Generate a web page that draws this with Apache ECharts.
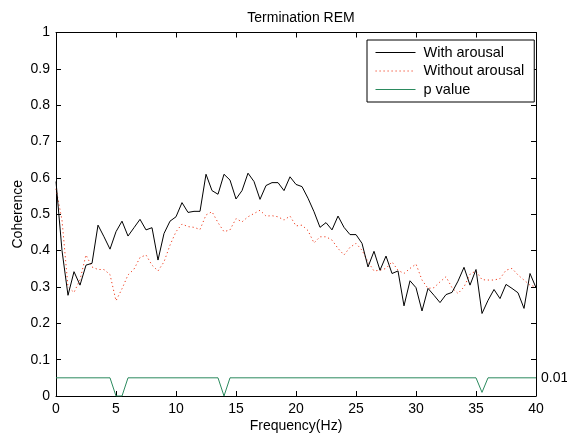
<!DOCTYPE html>
<html>
<head>
<meta charset="utf-8">
<script src="https://cdn.jsdelivr.net/npm/echarts@6/dist/echarts.min.js"></script>
<style>
  html, body { margin: 0; padding: 0; background: #fff; }
  #main { width: 567px; height: 436px; }
</style>
</head>
<body>
<div id="main"></div>
<script>
  // frequency grid (Hz)
  const freq = [
    0, 0.5, 1, 1.5, 2, 2.5, 3, 3.5, 4, 4.5, 5, 5.5, 6, 6.5, 7, 7.5, 8, 8.5, 9, 9.5,
    10, 10.5, 11, 11.5, 12, 12.5, 13, 13.5, 14, 14.5, 15, 15.5, 16, 16.5, 17, 17.5, 18, 18.5, 19, 19.5,
    20, 20.5, 21, 21.5, 22, 22.5, 23, 23.5, 24, 24.5, 25, 25.5, 26, 26.5, 27, 27.5, 28, 28.5, 29, 29.5,
    30, 30.5, 31, 31.5, 32, 32.5, 33, 33.5, 34, 34.5, 35, 35.5, 36, 36.5, 37, 37.5, 38, 38.5, 39, 39.5, 40
  ]
  const withArousal = [
    0.59, 0.40, 0.277, 0.342, 0.305, 0.36, 0.365, 0.47, 0.438, 0.404, 0.452, 0.481, 0.44, 0.463, 0.486, 0.457, 0.463, 0.374, 0.447, 0.481,
    0.493, 0.532, 0.505, 0.508, 0.508, 0.61, 0.565, 0.555, 0.61, 0.594, 0.542, 0.565, 0.613, 0.59, 0.541, 0.579, 0.587, 0.587, 0.565, 0.603,
    0.582, 0.576, 0.544, 0.507, 0.464, 0.477, 0.457, 0.495, 0.464, 0.444, 0.444, 0.42, 0.355, 0.398, 0.346, 0.385, 0.337, 0.344, 0.248, 0.317,
    0.298, 0.234, 0.296, 0.277, 0.257, 0.279, 0.285, 0.316, 0.354, 0.305, 0.348, 0.227, 0.263, 0.293, 0.268, 0.307, 0.296, 0.284, 0.241, 0.337, 0.298
  ]
  const withoutArousal = [
    0.57, 0.484, 0.30, 0.285, 0.32, 0.388, 0.355, 0.348, 0.348, 0.334, 0.262, 0.295, 0.333, 0.349, 0.381, 0.388, 0.36, 0.344, 0.369, 0.415,
    0.452, 0.473, 0.466, 0.464, 0.458, 0.498, 0.507, 0.477, 0.452, 0.457, 0.488, 0.479, 0.493, 0.502, 0.511, 0.495, 0.496, 0.493, 0.484, 0.495,
    0.468, 0.47, 0.455, 0.421, 0.438, 0.438, 0.429, 0.406, 0.388, 0.409, 0.42, 0.401, 0.369, 0.344, 0.346, 0.351, 0.369, 0.346, 0.337, 0.351,
    0.363, 0.319, 0.296, 0.298, 0.314, 0.328, 0.298, 0.282, 0.3, 0.335, 0.344, 0.32, 0.319, 0.319, 0.323, 0.346, 0.351, 0.333, 0.319, 0.305, 0.3
  ]
  // p value curve, drawn on the coherence scale (0.05 line = p 0.01)
  const pValue = [
    0.05, 0.05, 0.05, 0.05, 0.05, 0.05, 0.05, 0.05, 0.05, 0.05, 0, 0, 0.05, 0.05, 0.05, 0.05, 0.05, 0.05, 0.05, 0.05,
    0.05, 0.05, 0.05, 0.05, 0.05, 0.05, 0.05, 0.05, 0, 0.05, 0.05, 0.05, 0.05, 0.05, 0.05, 0.05, 0.05, 0.05, 0.05, 0.05,
    0.05, 0.05, 0.05, 0.05, 0.05, 0.05, 0.05, 0.05, 0.05, 0.05, 0.05, 0.05, 0.05, 0.05, 0.05, 0.05, 0.05, 0.05, 0.05, 0.05,
    0.05, 0.05, 0.05, 0.05, 0.05, 0.05, 0.05, 0.05, 0.05, 0.05, 0.05, 0.01, 0.05, 0.05, 0.05, 0.05, 0.05, 0.05, 0.05, 0.05, 0.05
  ]
  const pLabel = '0.01'

  const font = 'Liberation Sans, Arial, Helvetica, sans-serif'
  const pairs = arr => freq.map((f, i) => [f, arr[i]])

  const tick = { show: true, inside: true, length: 5, lineStyle: { color: '#000' } }
  const axisLine = { show: true, onZero: false, lineStyle: { color: '#000', width: 1 } }

  let myechart = echarts.init(document.getElementById('main'))
  let option = {
    animation: false,
    backgroundColor: '#fff',
    title: {
      text: 'Termination REM',
      left: 296,
      top: 6,
      textAlign: 'center',
      textStyle: { fontFamily: font, fontSize: 14, fontWeight: 'normal', color: '#000' }
    },
    grid: { left: 56, right: 31, top: 32.5, bottom: 40, containLabel: false, outerBoundsMode: 'none' },
    legend: {
      orient: 'vertical',
      left: 367,
      top: 40,
      padding: [5, 10, 5, 8],
      itemWidth: 40,
      itemHeight: 14,
      itemGap: 3.5,
      borderColor: '#000',
      borderWidth: 1,
      backgroundColor: '#fff',
      itemStyle: { opacity: 0 },
      lineStyle: { width: 1 },
      textStyle: { fontFamily: font, fontSize: 14.5, color: '#000', padding: [0, 0, 0, 3] },
      data: ['With arousal', 'Without arousal', 'p value']
    },
    xAxis: [
      {
        type: 'value', min: 0, max: 40, interval: 5,
        name: 'Frequency(Hz)', nameLocation: 'middle', nameGap: 23, nameMoveOverlap: false,
        nameTextStyle: { fontFamily: font, fontSize: 14, color: '#000' },
        axisLine: axisLine, axisTick: tick, splitLine: { show: false },
        axisLabel: { fontFamily: font, fontSize: 14, color: '#000', margin: 6 }
      },
      {
        type: 'value', min: 0, max: 40, interval: 5, position: 'top',
        axisLine: axisLine, axisTick: tick, splitLine: { show: false },
        axisLabel: { show: false }
      }
    ],
    yAxis: [
      {
        type: 'value', min: 0, max: 1, interval: 0.1,
        name: 'Coherence', nameLocation: 'middle', nameGap: 31, nameMoveOverlap: false,
        nameTextStyle: { fontFamily: font, fontSize: 14, color: '#000' },
        axisLine: axisLine, axisTick: tick, splitLine: { show: false },
        axisLabel: { fontFamily: font, fontSize: 14, color: '#000', margin: 6 }
      },
      {
        type: 'value', min: 0, max: 1, interval: 0.1, position: 'right',
        axisLine: axisLine, axisTick: tick, splitLine: { show: false },
        axisLabel: { show: false }
      }
    ],
    series: [
      {
        name: 'With arousal', type: 'line', data: pairs(withArousal),
        symbol: 'none', z: 3,
        lineStyle: { color: '#000', width: 1 }, itemStyle: { color: '#000' }
      },
      {
        name: 'Without arousal', type: 'line', data: pairs(withoutArousal),
        symbol: 'none', z: 2,
        lineStyle: { color: '#f03c1e', width: 1, type: [1.2, 2.8] }, itemStyle: { color: '#f03c1e' }
      },
      {
        name: 'p value', type: 'line', data: pairs(pValue),
        symbol: 'none', z: 2,
        lineStyle: { color: '#2b8a5e', width: 1 }, itemStyle: { color: '#2b8a5e' },
        endLabel: {
          show: true, formatter: pLabel, distance: 5,
          fontFamily: font, fontSize: 14, color: '#000'
        }
      }
    ]
  }
  myechart.setOption(option)
</script>
</body>
</html>
